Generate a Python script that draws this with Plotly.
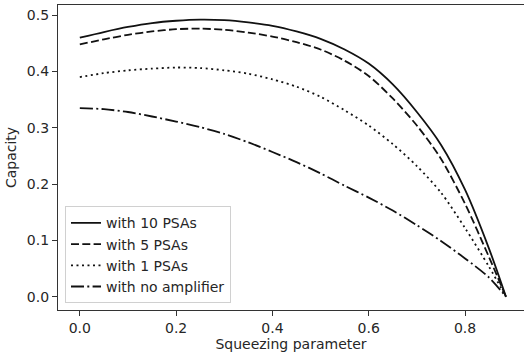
import plotly.graph_objects as go

squeezing = [0.0, 0.05, 0.1, 0.15, 0.2, 0.25, 0.3, 0.35, 0.4, 0.45, 0.5, 0.55,
             0.6, 0.65, 0.7, 0.75, 0.8, 0.85, 0.885]

cap_10psa = [0.460, 0.470, 0.479, 0.486, 0.490, 0.492, 0.491, 0.487, 0.481, 0.471,
             0.458, 0.439, 0.414, 0.377, 0.328, 0.270, 0.190, 0.085, 0.0]
cap_5psa = [0.448, 0.457, 0.465, 0.471, 0.475, 0.476, 0.474, 0.469, 0.462, 0.452,
            0.439, 0.419, 0.392, 0.352, 0.304, 0.245, 0.165, 0.070, 0.0]
cap_1psa = [0.390, 0.397, 0.402, 0.405, 0.407, 0.406, 0.402, 0.396, 0.386, 0.373,
            0.355, 0.331, 0.304, 0.271, 0.232, 0.185, 0.122, 0.053, 0.0]
cap_noamp = [0.335, 0.333, 0.328, 0.320, 0.311, 0.301, 0.289, 0.274, 0.257, 0.239,
             0.219, 0.197, 0.176, 0.153, 0.127, 0.099, 0.068, 0.034, 0.0]

series_names = ["with 10 PSAs", "with 5 PSAs", "with 1 PSAs", "with no amplifier"]
series_values = [cap_10psa, cap_5psa, cap_1psa, cap_noamp]
dashes = ["solid", "8px,3.3px", "2px,3.5px", "13px,3.3px,2px,3.3px"]

x_ticks = [0.0, 0.2, 0.4, 0.6, 0.8]
y_ticks = [0.0, 0.1, 0.2, 0.3, 0.4, 0.5]

fig = go.Figure()
for name, vals, d in zip(series_names, series_values, dashes):
    fig.add_trace(go.Scatter(x=squeezing, y=vals, mode="lines", name=name,
                             line=dict(color="#111111", width=1.8, dash=d,
                                       shape="spline", smoothing=0.8)))

txt = "#262626"
fig.update_layout(
    width=524, height=356,
    margin=dict(l=58, r=0, t=5, b=46),
    paper_bgcolor="white", plot_bgcolor="white",
    font=dict(family="DejaVu Sans", size=14, color=txt),
    showlegend=True,
    legend=dict(x=0.015, y=0.022, xanchor="left", yanchor="bottom",
                bordercolor="#d0d0d0", borderwidth=1, bgcolor="rgba(255,255,255,0.8)",
                font=dict(size=14, color=txt), tracegroupgap=0),
    xaxis=dict(range=[-0.0453, 0.9225], tickvals=x_ticks,
               ticktext=[f"{v:.1f}" for v in x_ticks], automargin=False,
               showgrid=False, zeroline=False, showline=True, linecolor="#333333",
               linewidth=1.2, mirror=True, ticks="outside", ticklen=5, tickcolor="#333333",
               tickfont=dict(size=14, color=txt),
               title=dict(text="Squeezing parameter", standoff=2,
                          font=dict(size=14, color=txt))),
    yaxis=dict(range=[-0.0236, 0.518], tickvals=y_ticks,
               ticktext=[f"{v:.1f}" for v in y_ticks], automargin=False,
               showgrid=False, zeroline=False, showline=True, linecolor="#333333",
               linewidth=1.2, ticks="outside", ticklen=5, tickcolor="#333333",
               tickfont=dict(size=14, color=txt),
               title=dict(text="Capacity", standoff=6,
                          font=dict(size=14, color=txt))),
)

fig.write_html("out.html", config={"displayModeBar": False},
               post_script="document.body.style.margin='0';document.body.style.overflow='hidden';")
